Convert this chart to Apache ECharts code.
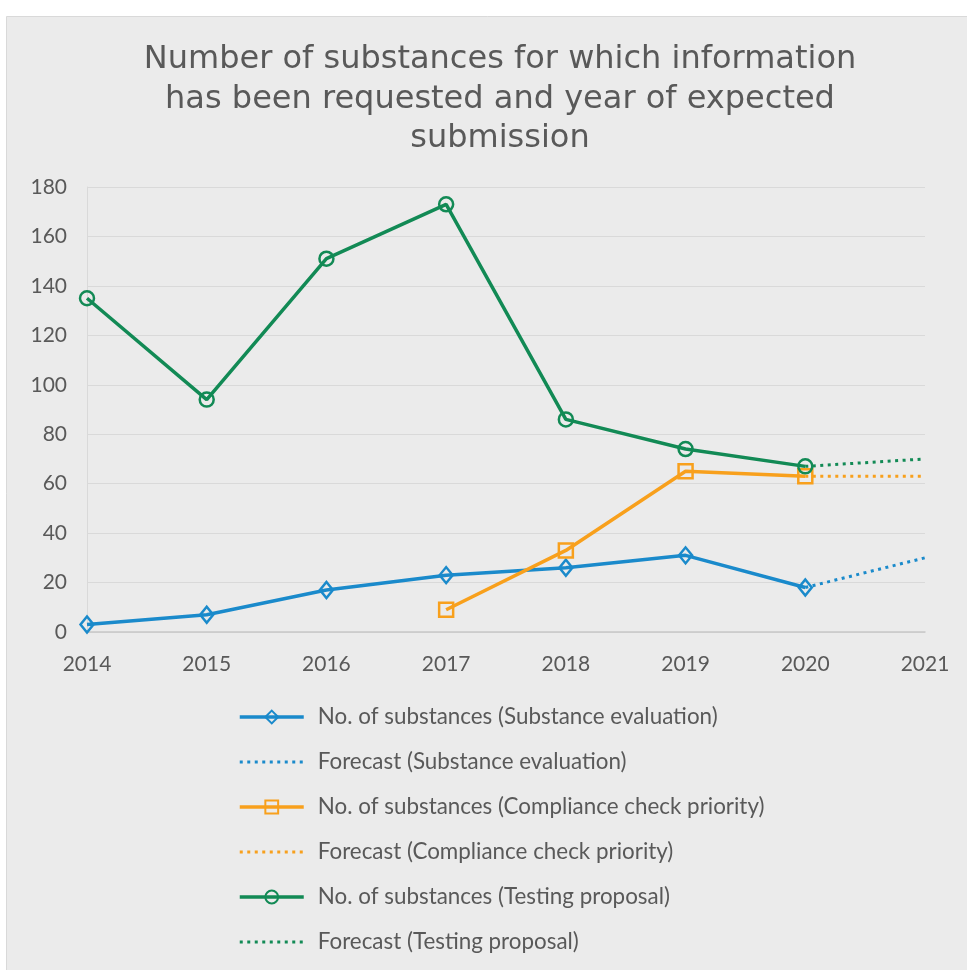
<!DOCTYPE html>
<html>
<head>
<meta charset="utf-8">
<script src="https://cdn.jsdelivr.net/npm/echarts@6/dist/echarts.min.js"></script>
<style>
  html, body { margin: 0; padding: 0; background: #ffffff; }
  #chart { width: 967px; height: 970px; }
</style>
</head>
<body>
<div id="chart"></div>
<script>
// Years on the horizontal axis
const years = ['2014', '2015', '2016', '2017', '2018', '2019', '2020', '2021'];

// Substance evaluation
const substanceEval = [3, 7, 17, 23, 26, 31, 18, null];
const substanceEvalForecast = [null, null, null, null, null, null, 18, 30];

// Compliance check priority
const complianceCheck = [null, null, null, 9, 33, 65, 63, null];
const complianceCheckForecast = [null, null, null, null, null, null, 63, 63];

// Testing proposal
const testingProposal = [135, 94, 151, 173, 86, 74, 67, null];
const testingProposalForecast = [null, null, null, null, null, null, 67, 70];

const seriesNames = [
  'No. of substances (Substance evaluation)',
  'Forecast (Substance evaluation)',
  'No. of substances (Compliance check priority)',
  'Forecast (Compliance check priority)',
  'No. of substances (Testing proposal)',
  'Forecast (Testing proposal)'
];

const BLUE = '#1a8acb';
const ORANGE = '#f8a01c';
const GREEN = '#128a55';
const TEXT = '#595959';
const FONT = 'Lato';
const DOTS = [3, 4.5];

function solid(name, data, color, symbol, size) {
  return {
    name: name,
    type: 'line',
    data: data,
    symbol: symbol,
    symbolSize: size,
    showAllSymbol: true,
    connectNulls: false,
    lineStyle: { color: color, width: 3.5 },
    itemStyle: { color: 'rgba(0,0,0,0)', borderColor: color, borderWidth: 2.5 },
    emphasis: { disabled: true },
    z: 3
  };
}

function forecast(name, data, color) {
  return {
    name: name,
    type: 'line',
    data: data,
    symbol: 'none',
    connectNulls: false,
    lineStyle: { color: color, width: 3, type: DOTS },
    itemStyle: { color: color },
    emphasis: { disabled: true },
    z: 2
  };
}

// legend entries: solid lines keep their marker, forecasts show only dots
const legendData = seriesNames.map(function (name, i) {
  if (i % 2 === 1) {
    return { name: name, itemStyle: { opacity: 0 }, lineStyle: { width: 3, type: DOTS } };
  }
  return { name: name, lineStyle: { width: 3.5 } };
});

const chart = echarts.init(document.getElementById('chart'));
chart.setOption({
  backgroundColor: '#ffffff',
  animation: false,
  graphic: [{
    type: 'rect',
    shape: { x: 6.5, y: 16.5, width: 980, height: 980 },
    style: { fill: '#ebebeb', stroke: '#d9d9d9', lineWidth: 1 },
    z: -10,
    silent: true
  }],
  title: {
    text: 'Number of substances for which information\nhas been requested and year of expected\nsubmission',
    left: 495,
    textAlign: 'center',
    top: 35,
    textStyle: {
      fontFamily: '"DejaVu Sans", sans-serif',
      fontSize: 32,
      fontWeight: 'normal',
      color: TEXT,
      lineHeight: 39.5
    }
  },
  grid: { left: 87, right: 42, top: 187, bottom: 338, containLabel: false },
  xAxis: {
    type: 'category',
    data: years,
    boundaryGap: false,
    axisLine: { show: true, lineStyle: { color: '#c8c8c8', width: 1.5 } },
    axisTick: { show: false },
    axisLabel: { color: TEXT, fontFamily: FONT, fontSize: 21, margin: 22 },
    splitLine: { show: false }
  },
  yAxis: {
    type: 'value',
    min: 0,
    max: 180,
    interval: 20,
    axisLine: { show: true, lineStyle: { color: '#d9d9d9', width: 1 } },
    axisTick: { show: false },
    axisLabel: { color: TEXT, fontFamily: FONT, fontSize: 21, margin: 20 },
    splitLine: { lineStyle: { color: '#d9d9d9', width: 1 } }
  },
  legend: {
    orient: 'vertical',
    left: 233,
    top: 700,
    itemWidth: 64,
    itemHeight: 16,
    itemGap: 21,
    data: legendData,
    textStyle: { color: TEXT, fontFamily: FONT, fontSize: 22.4, lineHeight: 24, padding: [0, 0, 0, 9] },
    selectedMode: false
  },
  series: [
    solid(seriesNames[0], substanceEval, BLUE, 'diamond', [13, 16]),
    forecast(seriesNames[1], substanceEvalForecast, BLUE),
    solid(seriesNames[2], complianceCheck, ORANGE, 'rect', 14),
    forecast(seriesNames[3], complianceCheckForecast, ORANGE),
    solid(seriesNames[4], testingProposal, GREEN, 'circle', 14),
    forecast(seriesNames[5], testingProposalForecast, GREEN)
  ]
});
</script>
</body>
</html>
